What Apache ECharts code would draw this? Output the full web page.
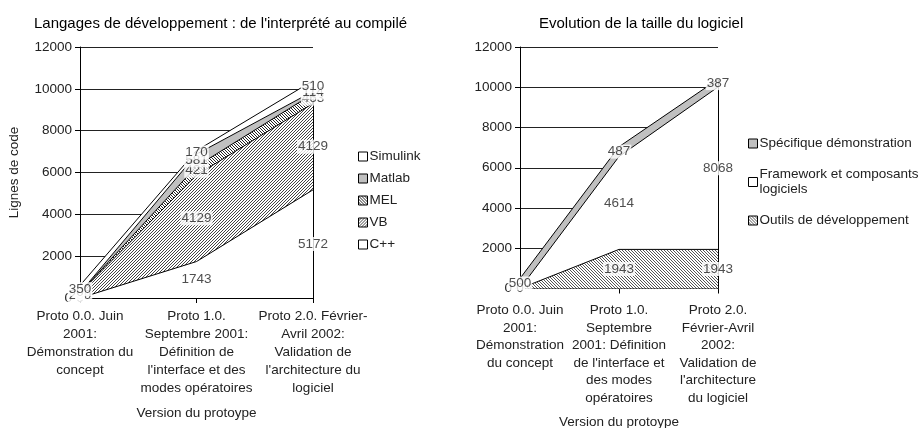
<!DOCTYPE html>
<html>
<head>
<meta charset="utf-8">
<script src="https://cdn.jsdelivr.net/npm/echarts@6/dist/echarts.min.js"></script>
<style>
  html, body { margin: 0; padding: 0; background: #fff; }
  #chart { width: 920px; height: 428px; }
</style>
</head>
<body>
<div id="chart"></div>
<script>
'use strict';

// Left chart: langages
const categoriesLeft = [
    'Proto 0.0. Juin\n2001:\nDémonstration du\nconcept',
    'Proto 1.0.\nSeptembre 2001:\nDéfinition de\nl\'interface et des\nmodes opératoires',
    'Proto 2.0. Février-\nAvril 2002:\nValidation de\nl\'architecture du\nlogiciel'
];
const cppLines = [0, 1743, 5172];
const vbLines = [250, 4129, 4129];
const melLines = [0, 421, 463];
const matlabLines = [0, 581, 114];
const simulinkLines = [350, 170, 510];

// Right chart: taille du logiciel
const categoriesRight = [
    'Proto 0.0. Juin\n2001:\nDémonstration\ndu concept',
    'Proto 1.0.\nSeptembre\n2001: Définition\nde l\'interface et\ndes modes\nopératoires',
    'Proto 2.0.\nFévrier-Avril\n2002:\nValidation de\nl\'architecture\ndu logiciel'
];
const outilsLines = [0, 1943, 1943];
const frameworkLines = [0, 4614, 8068];
const specifiqueLines = [500, 487, 387];

const yTicks = [0, 2000, 4000, 6000, 8000, 10000, 12000];

const FONT = '"Liberation Sans", Arial, sans-serif';
const TXT = '#222';

/*
 * Small repeating hatch tile, drawn pixel by pixel so it stays crisp.
 */
const hatch = (dir, size, ink) => {
    const c = document.createElement('canvas');
    c.width = size;
    c.height = size;
    const g = c.getContext('2d');
    g.fillStyle = '#fff';
    g.fillRect(0, 0, size, size);
    g.fillStyle = ink;
    for (let i = 0; i < size; i++) {
        const y = dir === '/' ? size - 1 - i : i;
        g.fillRect(i, y, 1, 1);
    }
    return { image: c, repeat: 'repeat' };
};

const fills = {
    'C++': '#fff',
    'VB': hatch('/', 3, '#444'),
    'MEL': hatch('\\', 3, '#222'),
    'Matlab': '#c0c0c0',
    'Simulink': '#fff',
    'Outils de développement': hatch('\\', 3, '#555'),
    'Framework et composants logiciels': '#fff',
    'Spécifique démonstration': '#c0c0c0'
};

const buildSeries = (list, axisIndex) => {
    const out = [];
    const base = [0, 0, 0];
    const labels = [];
    list.forEach((s, k) => {
        const total = base.map((b, j) => b + s.data[j]);
        const area = {
            name: s.name,
            type: 'line',
            stack: 'st' + axisIndex,
            xAxisIndex: axisIndex,
            yAxisIndex: axisIndex,
            data: s.data,
            symbol: 'none',
            lineStyle: { color: '#000', width: 1 },
            itemStyle: { color: fills[s.name] },
            areaStyle: { color: fills[s.name], opacity: 1 },
            z: 2
        };
        // close the last band with its right-hand edge, like the original
        if (k === list.length - 1) {
            area.markLine = {
                silent: true,
                symbol: 'none',
                label: { show: false },
                lineStyle: { color: '#000', width: 1, type: 'solid' },
                data: [[{ coord: [2, 0] }, { coord: [2, total[2]] }]]
            };
        }
        out.push(area);
        labels.push({
            name: 'lbl-' + s.name,
            type: 'scatter',
            xAxisIndex: axisIndex,
            yAxisIndex: axisIndex,
            symbolSize: 0,
            silent: true,
            z: 5,
            data: s.data.map((v, j) => [j, base[j] + v / 2, v]),
            label: {
                show: true,
                position: 'inside',
                formatter: (p) => String(p.data[2]),
                fontFamily: FONT,
                fontSize: 13.5,
                color: TXT,
                backgroundColor: '#fff',
                padding: [0, 1]
            }
        });
        total.forEach((t, j) => { base[j] = t; });
    });
    return out.concat(labels);
};

const leftSeries = buildSeries([
    { name: 'C++', data: cppLines },
    { name: 'VB', data: vbLines },
    { name: 'MEL', data: melLines },
    { name: 'Matlab', data: matlabLines },
    { name: 'Simulink', data: simulinkLines }
], 0);

const rightSeries = buildSeries([
    { name: 'Outils de développement', data: outilsLines },
    { name: 'Framework et composants logiciels', data: frameworkLines },
    { name: 'Spécifique démonstration', data: specifiqueLines }
], 1);

const legendItem = (name) => ({
    name: name,
    icon: 'rect',
    itemStyle: { color: fills[name], borderColor: '#000', borderWidth: 1 }
});

const xAxis = (idx, cats, nameGap, margin, lh) => ({
    type: 'category',
    gridIndex: idx,
    data: cats,
    boundaryGap: false,
    name: 'Version du protoype',
    nameLocation: 'middle',
    nameGap: nameGap,
    nameTextStyle: { fontFamily: FONT, fontSize: 13.5, color: TXT },
    axisLine: { lineStyle: { color: '#000', width: 1 } },
    axisTick: { show: true, length: 5, lineStyle: { color: '#000' } },
    axisLabel: {
        interval: 0,
        margin: margin,
        fontFamily: FONT,
        fontSize: 13.5,
        color: TXT,
        lineHeight: lh,
        align: 'center'
    },
    splitLine: { show: false }
});

const yAxis = (idx, withName) => ({
    type: 'value',
    gridIndex: idx,
    min: yTicks[0],
    max: yTicks[yTicks.length - 1],
    interval: yTicks[1] - yTicks[0],
    name: withName ? 'Lignes de code' : '',
    nameLocation: 'middle',
    nameGap: 59,
    nameTextStyle: { fontFamily: FONT, fontSize: 13.5, color: TXT },
    axisLine: { show: true, lineStyle: { color: '#000', width: 1 } },
    axisTick: { show: true, length: 5, lineStyle: { color: '#000' } },
    axisLabel: { fontFamily: FONT, fontSize: 13.5, color: TXT, margin: 8, formatter: (v) => String(v) },
    splitLine: { show: true, lineStyle: { color: '#222', width: 1 } }
});

const chart = echarts.init(document.getElementById('chart'), null, { renderer: 'canvas' });

chart.setOption({
    backgroundColor: '#fff',
    animation: false,
    title: [
        {
            text: 'Langages de développement : de l\'interprété au compilé',
            left: 29,
            top: 11,
            textStyle: { fontFamily: FONT, fontSize: 15, fontWeight: 'normal', color: '#000' }
        },
        {
            text: 'Evolution de la taille du logiciel',
            left: 534,
            top: 11,
            textStyle: { fontFamily: FONT, fontSize: 15, fontWeight: 'normal', color: '#000' }
        }
    ],
    legend: [
        {
            orient: 'vertical',
            left: 353,
            top: 144,
            itemWidth: 9,
            itemHeight: 9,
            itemGap: 7,
            selectedMode: false,
            textStyle: { fontFamily: FONT, fontSize: 13.5, color: TXT, lineHeight: 15, padding: [0, 0, 0, -3] },
            data: ['Simulink', 'Matlab', 'MEL', 'VB', 'C++'].map(legendItem)
        },
        {
            orient: 'vertical',
            left: 743,
            top: 131,
            itemWidth: 9,
            itemHeight: 9,
            itemGap: 16,
            selectedMode: false,
            formatter: (n) => n === 'Framework et composants logiciels' ? 'Framework et composants\nlogiciels' : n,
            textStyle: { fontFamily: FONT, fontSize: 13.5, color: TXT, lineHeight: 15, padding: [0, 0, 0, -3] },
            data: ['Spécifique démonstration', 'Framework et composants logiciels', 'Outils de développement'].map(legendItem)
        }
    ],
    grid: [
        { left: 80, top: 47, width: 233, height: 251, outerBoundsMode: 'none', containLabel: false },
        { left: 520, top: 47, width: 198, height: 241.5, outerBoundsMode: 'none', containLabel: false }
    ],
    xAxis: [
        xAxis(0, categoriesLeft, 108, 9, 18),
        xAxis(1, categoriesRight, 127, 13, 17.6)
    ],
    yAxis: [yAxis(0, true), yAxis(1, false)],
    series: leftSeries.concat(rightSeries)
});
</script>
</body>
</html>
